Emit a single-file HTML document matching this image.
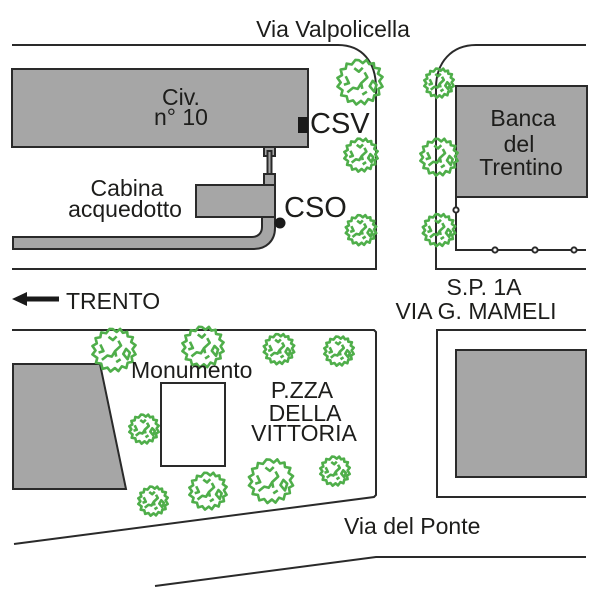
<!DOCTYPE html>
<html><head><meta charset="utf-8">
<style>
html,body{margin:0;padding:0;background:#fff}
svg{display:block}
text{font-family:"Liberation Sans",sans-serif;fill:#1d1d1b;font-size:23px}
.m{text-anchor:middle}
.l{fill:none;stroke:#2a2a2a;stroke-width:2}
.b{fill:#a6a6a6;stroke:#2a2a2a;stroke-width:2}
.t *{fill:none;stroke:#4fae4a;stroke-width:2.6;vector-effect:non-scaling-stroke;stroke-linejoin:round}
</style></head><body>
<svg width="600" height="600" viewBox="0 0 600 600" xmlns="http://www.w3.org/2000/svg">
<defs>
<g id="tr" class="t">
<path d="M-.05,-.95 L.12,-.82 L.28,-.96 L.4,-.78 L.6,-.82 L.62,-.62 L.86,-.58 L.78,-.36 L.98,-.22 L.84,-.04 L.98,.2 L.8,.3 L.84,.54 L.62,.58 L.56,.82 L.36,.74 L.2,.96 L.04,.82 L-.16,.98 L-.3,.8 L-.52,.86 L-.58,.62 L-.82,.58 L-.76,.36 L-.98,.2 L-.84,.02 L-.98,-.18 L-.78,-.3 L-.84,-.54 L-.62,-.58 L-.58,-.8 L-.36,-.76 L-.2,-.96 Z"/>
<path d="M-.55,.45 L-.3,.25 L-.1,.3 L.05,.05 L.32,-.2 L.2,-.42 M.05,.05 L.1,.3 M-.62,-.25 L-.48,.05 L-.7,.12 M.42,.18 L.62,.42 L.72,.12 L.55,-.05 Z M.1,.55 L.3,.42 M-.25,-.6 L-.05,-.45 L.12,-.62"/>
</g>
</defs>
<path class="l" d="M12,45H338C362,45 376,62 376,88V269H12"/>
<path class="l" d="M586,45H476C452,45 436,62 436,88V269H586"/>
<rect class="b" x="456" y="86" width="131" height="111"/>
<path class="l" d="M456,197V250H586"/>
<g fill="#fff" stroke="#2a2a2a" stroke-width="2"><circle cx="456" cy="210" r="2.6"/><circle cx="495" cy="250" r="2.6"/><circle cx="535" cy="250" r="2.6"/><circle cx="574" cy="250" r="2.6"/></g>

<rect class="b" x="12" y="69" width="296" height="78"/>
<rect x="298" y="117" width="10" height="16" fill="#1a1a1a"/>
<rect class="b" x="264" y="147" width="11" height="9" stroke-width="1.5"/>
<rect class="b" x="267.5" y="151" width="4" height="24" fill="#ccc" stroke-width="1.5"/>
<rect class="b" x="264" y="174" width="11" height="11"/>
<path class="b" d="M262,217H275V228C275,241 266,249 254,249H13V237H252C258,237 262,233 262,227Z"/>
<rect class="b" x="196" y="185" width="79" height="32"/>
<circle cx="280" cy="223" r="5.5" fill="#1a1a1a"/>

<path class="l" d="M12,330H374L376,332V495L374,497L14,544"/>
<path class="l" d="M586,330H437V497H586"/>
<rect class="b" x="456" y="350" width="130" height="127"/>
<path class="b" d="M13,364H100L126,489H13Z"/>
<rect x="161" y="383" width="64" height="83" fill="#fff" stroke="#2a2a2a" stroke-width="2"/>
<path class="l" d="M155,586L376,557H586"/>

<path d="M12,299L27,292V296.5H59V301.5H27V306Z" fill="#1a1a1a"/>

<use href="#tr" transform="translate(360,82) scale(23)"/>
<use href="#tr" transform="translate(439,83) scale(15)"/>
<use href="#tr" transform="translate(361,155) scale(17)"/>
<use href="#tr" transform="translate(439,157) scale(19)"/>
<use href="#tr" transform="translate(361,230) scale(15.5)"/>
<use href="#tr" transform="translate(439,230) scale(16.5)"/>
<use href="#tr" transform="translate(114,350) scale(22)"/>
<use href="#tr" transform="translate(203,347) scale(21)"/>
<use href="#tr" transform="translate(279,349) scale(15.5)"/>
<use href="#tr" transform="translate(339,351) scale(15)"/>
<use href="#tr" transform="translate(144,429) scale(15)"/>
<use href="#tr" transform="translate(153,501) scale(15)"/>
<use href="#tr" transform="translate(208,491) scale(19)"/>
<use href="#tr" transform="translate(271,481) scale(22.5)"/>
<use href="#tr" transform="translate(335,471) scale(15)"/>

<text class="m" x="333" y="37">Via Valpolicella</text>
<text class="m" x="181" y="105">Civ.</text>
<text class="m" x="181" y="125">n° 10</text>
<text x="310" y="133" style="font-size:29px">CSV</text>
<text x="284" y="217" style="font-size:29px">CSO</text>
<text class="m" x="127" y="196">Cabina</text>
<text class="m" x="125" y="217">acquedotto</text>
<text class="m" x="523" y="126">Banca</text>
<text class="m" x="519" y="152">del</text>
<text class="m" x="521" y="175">Trentino</text>
<text x="66" y="309">TRENTO</text>
<text class="m" x="484" y="295">S.P. 1A</text>
<text class="m" x="476" y="319">VIA G. MAMELI</text>
<text x="131" y="378">Monumento</text>
<text class="m" x="302" y="398">P.ZZA</text>
<text class="m" x="305" y="421">DELLA</text>
<text class="m" x="304" y="441">VITTORIA</text>
<text x="344" y="534">Via del Ponte</text>
</svg>
</body></html>
